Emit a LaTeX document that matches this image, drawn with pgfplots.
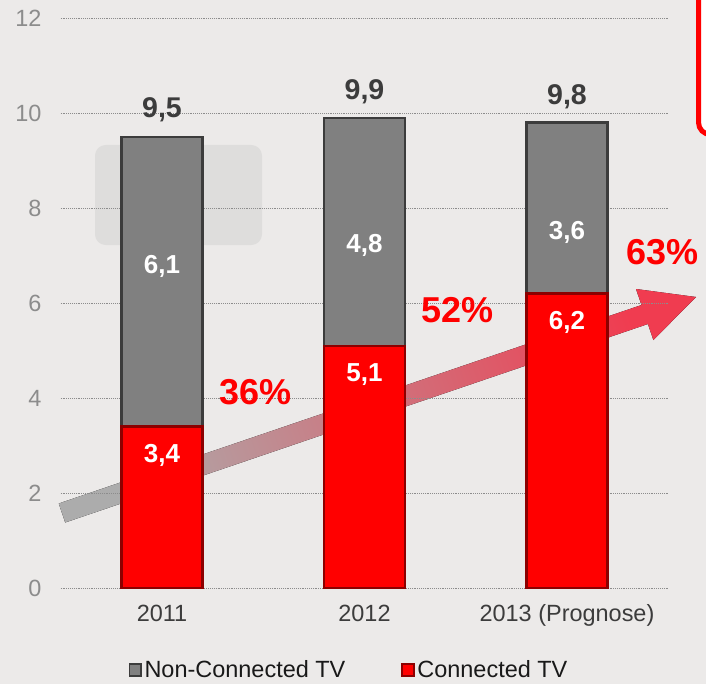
\documentclass[border=0pt]{standalone}
\usepackage{pgfplots}
\pgfplotsset{compat=1.18}
\usepackage{fontspec}
\setmainfont{Liberation Sans}
\definecolor{bg}{RGB}{236,234,233}
\definecolor{bgdark}{RGB}{222,221,220}
\definecolor{barred}{RGB}{255,0,0}
\definecolor{redE}{RGB}{140,0,0}
\definecolor{bargray}{RGB}{128,128,128}
\definecolor{grayE}{RGB}{60,60,60}
\definecolor{ticklab}{RGB}{140,140,140}
\definecolor{darktxt}{RGB}{60,60,60}
\definecolor{arrowgray}{RGB}{172,172,172}
\definecolor{arrowred}{RGB}{240,60,80}
\newcommand{\fs}{\fontsize{17.6}{20}\selectfont}
\tikzset{
  tot/.style={font=\fontsize{21.4}{24}\selectfont\bfseries, text=darktxt},
  seg/.style={font=\fontsize{19.5}{22}\selectfont\bfseries, text=white},
  pct/.style={font=\fontsize{27}{30}\selectfont\bfseries, text=red},
}
\begin{document}
\begin{tikzpicture}
\begin{scope}[x=0.75pt,y=0.75pt]
\useasboundingbox (-60.75,-96) rectangle (645.25,588);
\fill[bg] (-60.75,-96) rectangle (645.25,588);
\fill[bgdark, rounded corners=8pt] (34.25,343) rectangle (201.25,443);
\fill[left color=arrowgray, right color=arrowred, shading angle=108.8]
  (-1.95,84.5) -- (4.45,65.5) -- (587.15,264) -- (592.65,248) -- (635.25,291)
  -- (575.25,299) -- (580.75,283) -- cycle;
\begin{scope}
\clip (-60.75,-96) rectangle (645.25,588);
\filldraw[draw=red, fill=white, line width=3.75pt, rounded corners=9pt] (637.75,453.5) rectangle (720,620);
\end{scope}
\end{scope}
\begin{axis}[
  scale only axis, width=455.625pt, height=427.5pt,
  xmin=-0.5, xmax=2.5, ymin=0, ymax=12,
  ybar stacked, bar width=60.75pt,
  clip=false,
  axis x line=bottom, axis y line=left,
  axis line style={draw=none},
  major tick length=0pt,
  xtick={0,1,2}, xticklabels={2011,2012,2013 (Prognose)},
  ytick={0,2,4,6,8,10,12},
  ymajorgrids, major grid style={densely dotted, black!45, line width=0.6pt},
  /pgf/number format/assume math mode=true,
  yticklabel style={font=\fs, text=ticklab, xshift=-11pt},
  xticklabel style={font=\fs, text=darktxt, yshift=-9pt},
  legend style={at={(0.475,-0.144)}, anchor=center, draw=none, fill=none, font=\fs,
    text=black!90, /tikz/every even column/.append style={column sep=40pt}},
  legend columns=2,
  legend image code/.code={\draw[#1, line width=1.2pt] (0.6pt,-4.4pt) rectangle (9.4pt,4.4pt);},
]
\addplot[fill=barred, draw=redE, line width=1.6pt, forget plot] coordinates {(0,3.4) (1,5.1) (2,6.2)};
\addplot[fill=bargray, draw=grayE, line width=1.6pt, forget plot] coordinates {(0,6.1) (1,4.8) (2,3.6)};
\addlegendimage{fill=bargray, draw=grayE}
\addlegendentry{Non-Connected TV}
\addlegendimage{fill=barred, draw=redE}
\addlegendentry{Connected TV}
\coordinate (t1) at (axis cs:0,10.06);
\coordinate (t2) at (axis cs:1,10.44);
\coordinate (t3) at (axis cs:2,10.34);
\coordinate (s1) at (axis cs:0,6.78);
\coordinate (s2) at (axis cs:0,2.8);
\coordinate (s3) at (axis cs:1,7.22);
\coordinate (s4) at (axis cs:1,4.5);
\coordinate (s5) at (axis cs:2,7.49);
\coordinate (s6) at (axis cs:2,5.6);
\coordinate (p1) at (axis cs:0.464,4.13);
\coordinate (p2) at (axis cs:1.46,5.85);
\coordinate (p3) at (axis cs:2.474,7.07);
\end{axis}
\node[tot] at (t1) {9,5};
\node[tot] at (t2) {9,9};
\node[tot] at (t3) {9,8};
\node[seg] at (s1) {6,1};
\node[seg] at (s2) {3,4};
\node[seg] at (s3) {4,8};
\node[seg] at (s4) {5,1};
\node[seg] at (s5) {3,6};
\node[seg] at (s6) {6,2};
\node[pct] at (p1) {36\%};
\node[pct] at (p2) {52\%};
\node[pct] at (p3) {63\%};
\end{tikzpicture}
\end{document}
